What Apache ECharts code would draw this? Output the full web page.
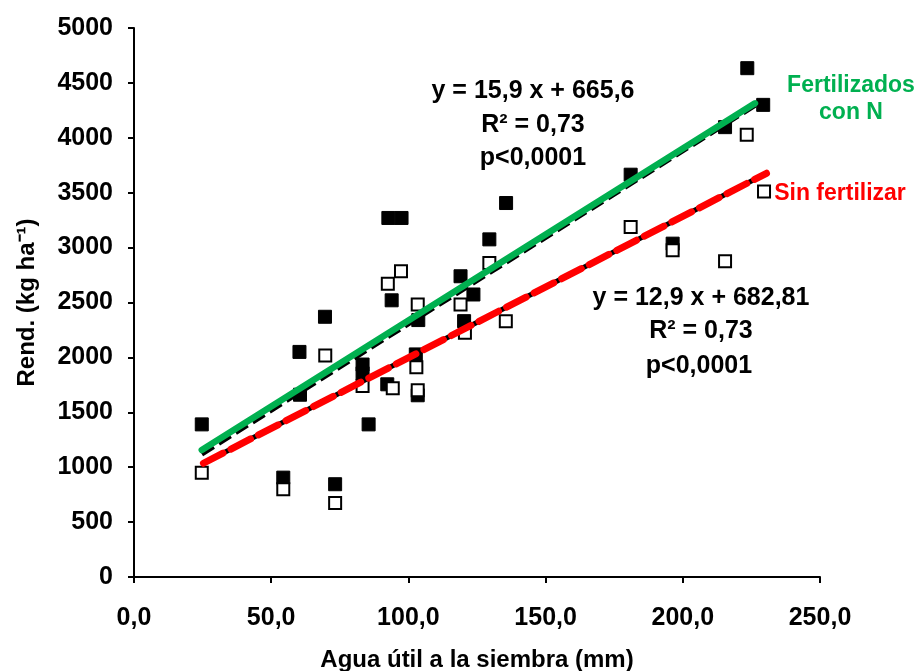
<!DOCTYPE html>
<html><head><meta charset="utf-8">
<script src="https://cdn.jsdelivr.net/npm/echarts@6/dist/echarts.min.js"></script>
<style>html,body{margin:0;padding:0;background:#fff}#c{width:921px;height:671px}</style>
</head><body><div id="c"></div>
<script>
// Fertilizados con N (filled squares)
const fertX = [24.7, 54.4, 60.3, 60.5, 69.6, 73.3, 83.3, 83.3, 85.5, 92.7, 97.5, 93.9, 92.3, 103.6, 102.7, 103.4, 119.0, 123.7, 120.3, 129.5, 135.6, 181.0, 196.3, 215.4, 223.5, 229.3];
const fertY = [1390, 905, 2050, 1660, 2370, 845, 1935, 1855, 1390, 3270, 3270, 2520, 1755, 2340, 2027, 1655, 2739, 2573, 2330, 3075, 3406, 3664, 3036, 4097, 4634, 4300];
// Sin fertilizar (open squares)
const sinX = [24.7, 54.4, 69.7, 73.3, 83.3, 92.5, 97.3, 94.3, 103.4, 102.9, 103.4, 119.0, 120.6, 129.5, 135.5, 181.0, 196.3, 215.4, 223.3, 229.6];
const sinY = [950, 800, 2018, 675, 1739, 2670, 2785, 1720, 2482, 1910, 1700, 2482, 2224, 2860, 2330, 3188, 2976, 2876, 4027, 3512];
// Drawn trend lines (endpoints)
const greenLineX = [24.7, 226.3];
const greenLineY = [1157, 4314];
const blackFertLineX = [24.7, 226.3];
const blackFertLineY = [1120, 4295];
const redLineX = [25.3, 230.5];
const redLineY = [1036, 3677];
// Axis ticks
const xTicks = [0, 50, 100, 150, 200, 250];
const yTicks = [0, 500, 1000, 1500, 2000, 2500, 3000, 3500, 4000, 4500, 5000];

const zip = (xs, ys) => xs.map((x, i) => [x, ys[i]]);
const FONT = '"Liberation Sans", Arial, sans-serif';
const txt = (x, y, text, size, color) => ({type: 'text', x, y, style: {text, fill: color, font: 'bold ' + size + 'px ' + FONT, align: 'center', verticalAlign: 'middle'}});

const chart = echarts.init(document.getElementById('c'), null, {renderer: 'canvas'});
chart.setOption({
  animation: false,
  backgroundColor: '#fff',
  grid: {left: 134, right: 101, top: 28, bottom: 94, containLabel: false, outerBoundsMode: 'none'},
  xAxis: {
    type: 'value', min: xTicks[0], max: xTicks[xTicks.length - 1], interval: 50,
    name: 'Agua útil a la siembra (mm)', nameLocation: 'middle', nameGap: 71,
    nameTextStyle: {fontFamily: FONT, fontWeight: 'bold', fontSize: 24, color: '#000'},
    axisLine: {lineStyle: {color: '#000', width: 2}},
    axisTick: {show: true, inside: false, length: 6, lineStyle: {color: '#000', width: 2}},
    axisLabel: {fontFamily: FONT, fontWeight: 'bold', fontSize: 25, color: '#000', margin: 29,
      formatter: v => v.toFixed(1).replace('.', ',')},
    splitLine: {show: false}
  },
  yAxis: {
    type: 'value', min: yTicks[0], max: yTicks[yTicks.length - 1], interval: 500,
    name: 'Rend. (kg ha⁻¹)', nameLocation: 'middle', nameGap: 95, nameRotate: 90,
    nameTextStyle: {fontFamily: FONT, fontWeight: 'bold', fontSize: 24, color: '#000'},
    axisLine: {show: true, lineStyle: {color: '#000', width: 2}},
    axisTick: {show: true, inside: false, length: 6, lineStyle: {color: '#000', width: 2}},
    axisLabel: {fontFamily: FONT, fontWeight: 'bold', fontSize: 25, color: '#000', margin: 21,
      formatter: v => String(v)},
    splitLine: {show: false}
  },
  series: [
    {type: 'scatter', name: 'Fertilizados con N', data: zip(fertX, fertY), symbol: 'rect', symbolSize: 13,
      itemStyle: {color: '#000', borderColor: '#000', borderWidth: 1, opacity: 1}, z: 2},
    {type: 'scatter', name: 'Sin fertilizar', data: zip(sinX, sinY), symbol: 'rect', symbolSize: 12,
      itemStyle: {color: '#fff', borderColor: '#000', borderWidth: 2, opacity: 1}, z: 3},
    {type: 'line', data: zip(blackFertLineX, blackFertLineY), symbol: 'none', z: 4,
      lineStyle: {color: '#000', width: 5, type: [14, 6]}},
    {type: 'line', data: zip(greenLineX, greenLineY), symbol: 'none', z: 5,
      lineStyle: {color: '#00B050', width: 6.5, cap: 'round'}},
    {type: 'line', data: zip(redLineX, redLineY), symbol: 'none', z: 4,
      lineStyle: {color: '#000', width: 5}},
    {type: 'line', data: zip(redLineX, redLineY), symbol: 'none', z: 5,
      lineStyle: {color: '#FF0000', width: 7, type: [22, 9], cap: 'round'}}
  ],
  graphic: [
    txt(533, 91, 'y = 15,9 x + 665,6', 25, '#000'),
    txt(533, 125, 'R² = 0,73', 25, '#000'),
    txt(533, 158, 'p<0,0001', 25, '#000'),
    txt(701, 298, 'y = 12,9 x + 682,81', 25, '#000'),
    txt(701, 331, 'R² = 0,73', 25, '#000'),
    txt(699, 366, 'p<0,0001', 25, '#000'),
    txt(851, 86, 'Fertilizados', 23, '#00B050'),
    txt(851, 113, 'con N', 23, '#00B050'),
    txt(840, 194, 'Sin fertilizar', 23, '#FF0000')
  ]
});
</script>
</body></html>
